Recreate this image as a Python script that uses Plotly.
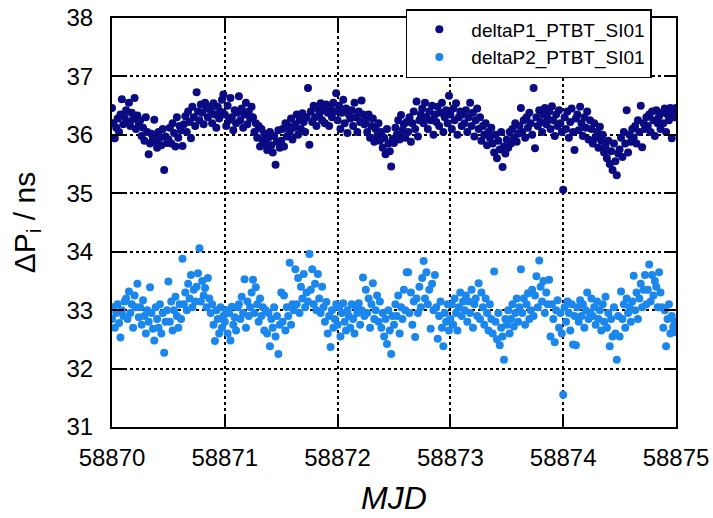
import plotly.graph_objects as go

# Sample times (MJD)
mjd = [
    58870.0000, 58870.0125, 58870.0250, 58870.0375, 58870.0500, 58870.0625, 58870.0750, 58870.0875, 58870.1000, 58870.1125,
    58870.1250, 58870.1375, 58870.1500, 58870.1625, 58870.1750, 58870.1875, 58870.2000, 58870.2125, 58870.2250, 58870.2375,
    58870.2500, 58870.2625, 58870.2750, 58870.2875, 58870.3000, 58870.3125, 58870.3250, 58870.3375, 58870.3500, 58870.3625,
    58870.3750, 58870.3875, 58870.4000, 58870.4125, 58870.4250, 58870.4375, 58870.4500, 58870.4625, 58870.4750, 58870.4875,
    58870.5000, 58870.5125, 58870.5250, 58870.5375, 58870.5500, 58870.5625, 58870.5750, 58870.5875, 58870.6000, 58870.6125,
    58870.6250, 58870.6375, 58870.6500, 58870.6625, 58870.6750, 58870.6875, 58870.7000, 58870.7125, 58870.7250, 58870.7375,
    58870.7500, 58870.7625, 58870.7750, 58870.7875, 58870.8000, 58870.8125, 58870.8250, 58870.8375, 58870.8500, 58870.8625,
    58870.8750, 58870.8875, 58870.9000, 58870.9125, 58870.9250, 58870.9375, 58870.9500, 58870.9625, 58870.9750, 58870.9875,
    58871.0000, 58871.0125, 58871.0250, 58871.0375, 58871.0500, 58871.0625, 58871.0750, 58871.0875, 58871.1000, 58871.1125,
    58871.1250, 58871.1375, 58871.1500, 58871.1625, 58871.1750, 58871.1875, 58871.2000, 58871.2125, 58871.2250, 58871.2375,
    58871.2500, 58871.2625, 58871.2750, 58871.2875, 58871.3000, 58871.3125, 58871.3250, 58871.3375, 58871.3500, 58871.3625,
    58871.3750, 58871.3875, 58871.4000, 58871.4125, 58871.4250, 58871.4375, 58871.4500, 58871.4625, 58871.4750, 58871.4875,
    58871.5000, 58871.5125, 58871.5250, 58871.5375, 58871.5500, 58871.5625, 58871.5750, 58871.5875, 58871.6000, 58871.6125,
    58871.6250, 58871.6375, 58871.6500, 58871.6625, 58871.6750, 58871.6875, 58871.7000, 58871.7125, 58871.7250, 58871.7375,
    58871.7500, 58871.7625, 58871.7750, 58871.7875, 58871.8000, 58871.8125, 58871.8250, 58871.8375, 58871.8500, 58871.8625,
    58871.8750, 58871.8875, 58871.9000, 58871.9125, 58871.9250, 58871.9375, 58871.9500, 58871.9625, 58871.9750, 58871.9875,
    58872.0000, 58872.0125, 58872.0250, 58872.0375, 58872.0500, 58872.0625, 58872.0750, 58872.0875, 58872.1000, 58872.1125,
    58872.1250, 58872.1375, 58872.1500, 58872.1625, 58872.1750, 58872.1875, 58872.2000, 58872.2125, 58872.2250, 58872.2375,
    58872.2500, 58872.2625, 58872.2750, 58872.2875, 58872.3000, 58872.3125, 58872.3250, 58872.3375, 58872.3500, 58872.3625,
    58872.3750, 58872.3875, 58872.4000, 58872.4125, 58872.4250, 58872.4375, 58872.4500, 58872.4625, 58872.4750, 58872.4875,
    58872.5000, 58872.5125, 58872.5250, 58872.5375, 58872.5500, 58872.5625, 58872.5750, 58872.5875, 58872.6000, 58872.6125,
    58872.6250, 58872.6375, 58872.6500, 58872.6625, 58872.6750, 58872.6875, 58872.7000, 58872.7125, 58872.7250, 58872.7375,
    58872.7500, 58872.7625, 58872.7750, 58872.7875, 58872.8000, 58872.8125, 58872.8250, 58872.8375, 58872.8500, 58872.8625,
    58872.8750, 58872.8875, 58872.9000, 58872.9125, 58872.9250, 58872.9375, 58872.9500, 58872.9625, 58872.9750, 58872.9875,
    58873.0000, 58873.0125, 58873.0250, 58873.0375, 58873.0500, 58873.0625, 58873.0750, 58873.0875, 58873.1000, 58873.1125,
    58873.1250, 58873.1375, 58873.1500, 58873.1625, 58873.1750, 58873.1875, 58873.2000, 58873.2125, 58873.2250, 58873.2375,
    58873.2500, 58873.2625, 58873.2750, 58873.2875, 58873.3000, 58873.3125, 58873.3250, 58873.3375, 58873.3500, 58873.3625,
    58873.3750, 58873.3875, 58873.4000, 58873.4125, 58873.4250, 58873.4375, 58873.4500, 58873.4625, 58873.4750, 58873.4875,
    58873.5000, 58873.5125, 58873.5250, 58873.5375, 58873.5500, 58873.5625, 58873.5750, 58873.5875, 58873.6000, 58873.6125,
    58873.6250, 58873.6375, 58873.6500, 58873.6625, 58873.6750, 58873.6875, 58873.7000, 58873.7125, 58873.7250, 58873.7375,
    58873.7500, 58873.7625, 58873.7750, 58873.7875, 58873.8000, 58873.8125, 58873.8250, 58873.8375, 58873.8500, 58873.8625,
    58873.8750, 58873.8875, 58873.9000, 58873.9125, 58873.9250, 58873.9375, 58873.9500, 58873.9625, 58873.9750, 58873.9875,
    58874.0000, 58874.0125, 58874.0250, 58874.0375, 58874.0500, 58874.0625, 58874.0750, 58874.0875, 58874.1000, 58874.1125,
    58874.1250, 58874.1375, 58874.1500, 58874.1625, 58874.1750, 58874.1875, 58874.2000, 58874.2125, 58874.2250, 58874.2375,
    58874.2500, 58874.2625, 58874.2750, 58874.2875, 58874.3000, 58874.3125, 58874.3250, 58874.3375, 58874.3500, 58874.3625,
    58874.3750, 58874.3875, 58874.4000, 58874.4125, 58874.4250, 58874.4375, 58874.4500, 58874.4625, 58874.4750, 58874.4875,
    58874.5000, 58874.5125, 58874.5250, 58874.5375, 58874.5500, 58874.5625, 58874.5750, 58874.5875, 58874.6000, 58874.6125,
    58874.6250, 58874.6375, 58874.6500, 58874.6625, 58874.6750, 58874.6875, 58874.7000, 58874.7125, 58874.7250, 58874.7375,
    58874.7500, 58874.7625, 58874.7750, 58874.7875, 58874.8000, 58874.8125, 58874.8250, 58874.8375, 58874.8500, 58874.8625,
    58874.8750, 58874.8875, 58874.9000, 58874.9125, 58874.9250, 58874.9375, 58874.9500, 58874.9625, 58874.9750, 58874.9875,
    58875.0000,
]

# deltaP1_PTBT_SI01 (ns)
delta_p1 = [
    36.46, 36.20, 35.94, 36.12, 36.28, 36.05, 36.35, 36.61, 36.18, 36.30,
    36.42, 36.22, 36.55, 36.15, 36.38, 36.27, 36.63, 36.10, 36.33, 36.20,
    36.25, 35.98, 36.12, 35.90, 36.30, 36.05, 35.67, 35.85, 36.02, 35.93,
    36.26, 35.88, 35.78, 36.05, 35.95, 35.82, 36.10, 35.40, 35.97, 35.86,
    35.92, 36.12, 35.85, 36.20, 36.03, 35.80, 36.30, 35.95, 36.15, 36.08,
    35.81, 36.18, 36.32, 36.05, 36.40, 36.22, 35.94, 36.48, 36.30, 36.15,
    36.73, 36.40, 36.25, 36.52, 36.38, 36.18, 36.55, 36.45, 36.30, 36.48,
    36.42, 36.20, 36.54, 36.35, 36.12, 36.48, 36.28, 36.40, 36.60, 36.69,
    36.35, 36.15, 36.50, 36.25, 36.63, 36.30, 36.08, 36.42, 36.20, 36.38,
    36.66, 36.25, 36.45, 36.12, 36.35, 36.55, 36.18, 36.40, 36.28, 36.48,
    36.30, 36.05, 36.20, 35.95, 36.15, 35.80, 36.10, 35.90, 36.02, 35.85,
    35.74, 35.95, 36.05, 35.82, 35.70, 35.98, 35.49, 35.88, 36.08, 35.78,
    35.90, 36.10, 35.80, 36.20, 35.97, 36.15, 36.05, 36.28, 35.92, 36.12,
    36.18, 36.35, 36.00, 36.25, 36.10, 36.37, 36.22, 36.05, 36.30, 36.80,
    35.83, 36.40, 36.22, 36.50, 36.30, 36.15, 36.45, 36.35, 36.54, 36.25,
    36.42, 36.20, 36.52, 36.38, 36.15, 36.48, 36.30, 36.55, 36.40, 36.71,
    36.25, 36.50, 36.10, 36.38, 36.60, 36.20, 36.45, 36.03, 36.35, 36.28,
    36.42, 36.15, 36.55, 36.30, 36.05, 36.40, 36.22, 36.59, 36.35, 36.18,
    36.25, 36.05, 36.35, 35.95, 36.15, 36.28, 35.88, 36.10, 35.98, 36.20,
    35.90, 36.05, 35.78, 35.95, 35.67, 36.10, 35.85, 35.72, 35.46, 35.93,
    35.86, 36.12, 36.00, 36.25, 35.92, 36.34, 36.08, 36.18, 35.95, 36.22,
    36.05, 36.30, 35.88, 36.20, 36.40, 36.10, 36.57, 35.97, 36.25, 36.35,
    36.45, 36.20, 36.55, 36.30, 36.10, 36.40, 36.25, 36.50, 36.00, 36.35,
    36.22, 36.48, 36.15, 36.38, 36.55, 36.05, 36.30, 36.42, 36.20, 36.67,
    36.35, 36.10, 36.45, 36.25, 36.54, 36.00, 36.30, 36.40, 36.15, 36.35,
    36.20, 36.42, 36.05, 36.30, 36.55, 36.15, 36.38, 35.97, 36.25, 36.45,
    36.10, 36.30, 35.90, 36.15, 36.00, 36.20, 35.82, 36.05, 35.95, 36.12,
    35.85, 35.70, 36.00, 35.60, 35.90, 35.75, 36.05, 35.45, 35.80, 35.68,
    35.92, 35.78, 36.05, 35.85, 36.10, 35.95, 36.20, 35.88, 36.02, 36.15,
    36.46, 36.05, 36.25, 35.95, 36.30, 36.12, 36.38, 36.20, 36.00, 36.80,
    35.77, 36.30, 36.15, 36.42, 36.22, 36.05, 36.35, 36.46, 36.18, 36.28,
    36.40, 36.10, 36.49, 36.25, 35.98, 36.35, 36.15, 36.42, 36.20, 36.05,
    35.06, 36.30, 36.10, 36.40, 35.95, 36.22, 36.45, 36.05, 35.74, 36.28,
    36.35, 36.08, 36.48, 36.20, 35.98, 36.30, 36.12, 36.40, 35.92, 36.25,
    36.10, 35.85, 36.20, 35.95, 36.05, 35.78, 36.14, 35.90, 36.00, 35.70,
    35.80, 35.60, 35.90, 35.50, 35.72, 35.40, 35.85, 35.55, 35.31, 35.68,
    35.75, 35.95, 35.62, 36.05, 35.85, 36.42, 35.70, 36.00, 35.88, 36.10,
    35.95, 36.15, 35.85, 36.25, 36.05, 36.50, 35.79, 36.20, 36.10, 36.30,
    36.15, 36.35, 36.05, 36.40, 36.25, 35.98, 36.42, 36.20, 36.32, 36.10,
    36.38, 36.20, 36.45, 36.05, 36.35, 36.25, 36.46, 35.94, 36.40, 36.30,
    36.46,
]

# deltaP2_PTBT_SI01 (ns)
delta_p2 = [
    32.85, 33.05, 32.70, 32.95, 33.10, 32.78, 32.53, 33.00, 32.90, 33.15,
    33.20, 32.85, 33.32, 32.95, 33.10, 32.70, 33.25, 33.05, 33.45, 32.88,
    33.05, 32.75, 33.17, 32.90, 32.60, 33.00, 32.80, 33.39, 32.95, 32.68,
    32.48, 33.05, 32.85, 32.70, 33.10, 32.60, 32.95, 32.27, 32.80, 33.00,
    33.49, 32.80, 33.15, 32.65, 33.00, 33.23, 32.90, 32.70, 33.10, 32.85,
    33.88, 33.10, 33.30, 33.00, 33.45, 33.20, 33.60, 33.05, 33.35, 33.15,
    33.40, 33.63, 34.06, 33.15, 33.50, 33.25, 33.38, 33.05, 33.55, 33.20,
    32.95, 33.10, 32.75, 32.47, 33.00, 32.85, 32.60, 33.05, 32.70, 32.90,
    32.80, 33.00, 32.60, 32.95, 32.48, 33.06, 32.75, 32.88, 32.65, 33.05,
    33.10, 32.85, 33.23, 32.95, 33.53, 32.70, 33.15, 32.90, 33.05, 33.30,
    33.52, 32.95, 33.39, 33.10, 32.80, 33.20, 32.90, 33.05, 32.65, 33.00,
    32.60, 32.95, 32.38, 32.85, 32.70, 33.05, 32.55, 32.90, 32.25, 32.75,
    33.30, 32.80, 33.25, 32.65, 33.05, 32.90, 33.81, 32.75, 33.10, 33.00,
    33.70, 33.10, 33.55, 32.95, 33.40, 33.20, 33.62, 33.05, 33.30, 33.15,
    33.96, 33.35, 33.70, 33.10, 33.45, 33.00, 33.62, 33.20, 32.95, 33.40,
    33.05, 32.80, 33.14, 32.60, 32.90, 32.37, 33.00, 32.70, 32.85, 33.10,
    32.75, 33.05, 32.55, 32.95, 33.12, 32.80, 32.65, 33.00, 32.90, 32.70,
    33.10, 32.85, 32.60, 33.05, 32.95, 33.12, 32.75, 33.00, 33.56, 32.90,
    33.35, 32.95, 33.20, 32.70, 33.10, 33.46, 32.85, 33.00, 33.25, 32.80,
    33.15, 32.70, 32.95, 32.55, 32.85, 32.42, 33.00, 32.65, 32.25, 32.90,
    32.75, 33.10, 32.90, 33.25, 32.60, 33.05, 32.85, 33.35, 33.00, 33.65,
    33.65, 32.95, 33.30, 32.75, 33.15, 32.54, 33.20, 32.95, 33.40, 33.05,
    33.55, 33.84, 33.20, 33.65, 33.10, 33.35, 32.68, 33.45, 33.00, 33.60,
    33.05, 32.51, 32.90, 33.15, 32.70, 32.38, 32.95, 32.80, 33.10, 32.65,
    32.85, 33.10, 32.75, 33.20, 32.95, 32.65, 33.05, 33.30, 32.90, 33.15,
    33.00, 33.25, 32.80, 33.15, 32.95, 33.35, 32.70, 33.10, 33.20, 32.90,
    33.46, 32.85, 33.30, 33.05, 32.75, 33.20, 32.95, 32.65, 33.10, 32.85,
    32.60, 33.66, 32.80, 32.50, 32.95, 32.40, 32.70, 32.55, 32.15, 32.85,
    32.75, 33.00, 32.60, 32.85, 33.10, 32.72, 32.95, 33.20, 32.80, 33.05,
    33.70, 32.95, 33.20, 32.75, 33.10, 33.29, 32.85, 33.00, 33.35, 32.90,
    33.25, 33.58, 33.05, 33.85, 33.40, 33.15, 33.50, 32.95, 33.30, 33.10,
    33.52, 32.55, 33.10, 32.85, 32.45, 33.00, 33.17, 32.70, 32.95, 32.60,
    31.55, 33.05, 32.80, 33.15, 32.95, 32.65, 33.10, 32.41, 32.90, 32.40,
    33.05, 32.80, 33.17, 32.90, 33.10, 32.70, 33.00, 33.30, 32.85, 32.95,
    33.20, 32.90, 33.05, 32.75, 33.15, 32.85, 33.00, 32.65, 33.10, 32.80,
    33.23, 32.70, 32.95, 32.38, 32.85, 32.55, 33.05, 32.60, 32.15, 32.90,
    32.55, 33.32, 32.85, 33.10, 32.70, 33.20, 32.95, 33.05, 32.80, 33.15,
    33.59, 33.00, 33.30, 32.85, 33.20, 33.45, 33.05, 33.35, 33.60, 33.10,
    33.35, 33.78, 33.15, 33.60, 33.25, 33.50, 33.40, 33.05, 33.65, 33.30,
    33.05, 32.70, 33.00, 32.38, 32.85, 33.10, 32.60, 32.90, 32.71, 32.80,
    32.62,
]

x_ticks = [58870, 58871, 58872, 58873, 58874, 58875]
y_ticks = [31, 32, 33, 34, 35, 36, 37, 38]

FONT = "Liberation Sans, Arial, sans-serif"
C1 = "#0a0a82"
C2 = "#1b87ec"

fig = go.Figure()
fig.add_trace(go.Scatter(x=mjd, y=delta_p1, mode="markers", name="deltaP1_PTBT_SI01",
                         marker=dict(color=C1, size=8, line=dict(width=0))))
fig.add_trace(go.Scatter(x=mjd, y=delta_p2, mode="markers", name="deltaP2_PTBT_SI01",
                         marker=dict(color=C2, size=8, line=dict(width=0))))

axis_common = dict(
    showline=True, linecolor="black", linewidth=2, mirror="ticks",
    ticks="inside", ticklen=12, tickwidth=2, tickcolor="black",
    showgrid=True, gridcolor="black", griddash="dot", gridwidth=1.5,
    zeroline=False, tickfont=dict(family=FONT, size=24, color="black"),
)

fig.update_layout(
    width=713, height=518,
    margin=dict(l=112, r=37, t=18, b=91, autoexpand=False),
    paper_bgcolor="white", plot_bgcolor="white",
    font=dict(family=FONT, color="black"),
    showlegend=True,
    legend=dict(x=0.521, y=1.022, xanchor="left", yanchor="top",
                bgcolor="white", bordercolor="black", borderwidth=1.5,
                font=dict(family=FONT, size=19, color="black"),
                itemwidth=54),
    xaxis=dict(range=[58870, 58875], tickmode="array", tickvals=x_ticks,
               ticktext=[str(v) for v in x_ticks], ticklabelstandoff=8,
               title=dict(text="<i>MJD</i>", font=dict(family=FONT, size=32, color="black"), standoff=17),
               **axis_common),
    yaxis=dict(range=[31, 38], tickmode="array", tickvals=y_ticks,
               ticktext=[str(v) for v in y_ticks], ticklabelstandoff=12,
               title=dict(text="ΔP<sub>i</sub> / ns", font=dict(family=FONT, size=30, color="black"), standoff=22),
               **axis_common),
)

# remove the default page margin so the figure sits at the window's top-left corner
fig.write_html("out.html", config={"displayModeBar": False},
               post_script="document.body.style.margin='0';")
